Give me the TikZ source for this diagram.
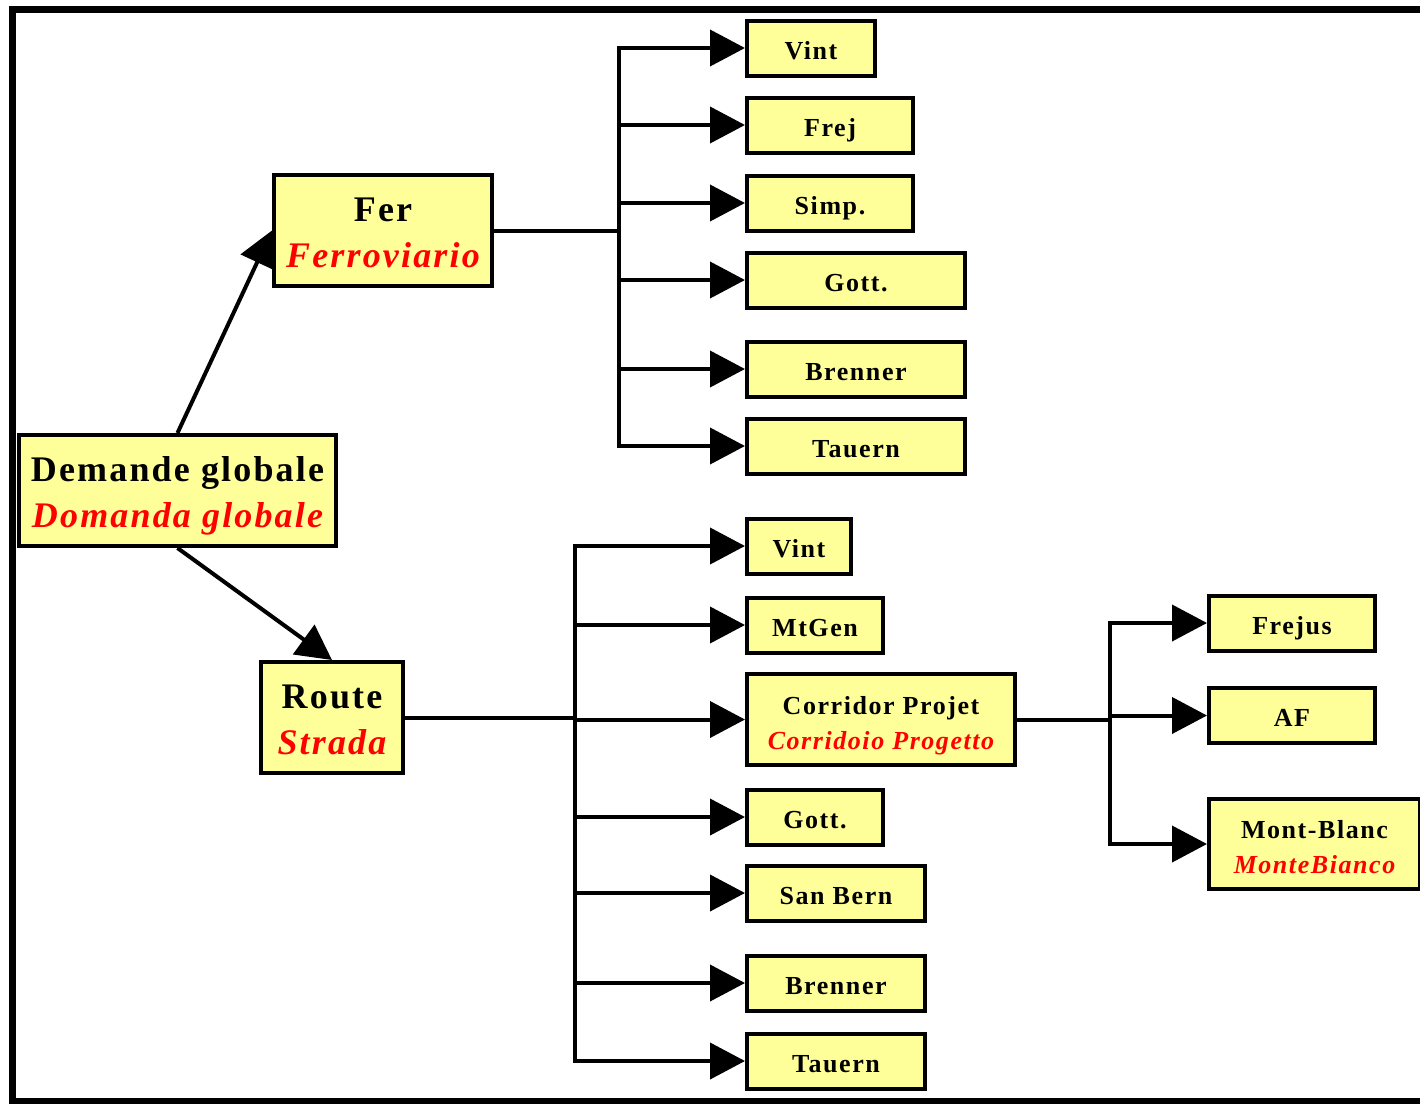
\documentclass[tikz,border=0pt]{standalone}
\usepackage{fontspec}
\setmainfont[LetterSpace=6]{Liberation Serif}
\usepackage{tikz}
\usetikzlibrary{arrows.meta}

\definecolor{boxyellow}{RGB}{255,255,153}
\newcommand{\dual}[2]{#1\\\textcolor{red}{\itshape #2}}

\begin{document}
\begin{tikzpicture}[x=1pt, y=-1pt,
	box/.style={draw, line width=4pt, fill=boxyellow, align=center, inner sep=0pt, text depth=0pt},
	big/.style={box, text height=74pt, font=\fontsize{36}{46}\selectfont\bfseries},
	leaf/.style={box, anchor=west, minimum height=55pt, text height=22pt, font=\fontsize{26}{35}\selectfont\bfseries},
	twoleaf/.style={leaf, text height=59pt},
	arr/.style={line width=4pt, -{Triangle[length=35pt,width=36pt]}}]

	\useasboundingbox (0,0) rectangle (1420,1103);
	\draw[line width=7pt] (12,9) rectangle (1460,1101);

	\node[big, minimum width=317pt, minimum height=111pt] (demande) at (177.5,490.5) {\dual{Demande globale}{Domanda globale}};
	\node[big, minimum width=218pt, minimum height=111pt] (fer) at (383,230.5) {\dual{Fer}{Ferroviario}};
	\node[big, minimum width=142pt, minimum height=111pt] (route) at (332,717.5) {\dual{Route}{Strada}};

	\draw[arr] (demande.north) -- (fer.west);
	\draw[arr] (demande.south) -- (route.north);

	% rail
	\coordinate (railbus) at (619,230.5);
	\foreach \n/\t/\y/\w in {rv/Vint/48/128, rf/Frej/125/166, rs/Simp./203/166, rg/Gott./280/218, rb/Brenner/369/218, rt/Tauern/446/218}
		\node[leaf, minimum width=\w pt] (\n) at (745,\y) {\t};
	\draw[line width=4pt] (fer.east) -- (railbus);
	\foreach \n in {rv,rf,rs,rg,rb,rt}
		\draw[arr] (railbus) |- (\n.west);

	% road
	\coordinate (roadbus) at (575,717.5);
	\foreach \n/\t/\y/\w in {dv/Vint/546/104, dm/MtGen/625/136, dg/Gott./817/136, ds/San Bern/893/178, db/Brenner/983/178, dt/Tauern/1061/178}
		\node[leaf, minimum width=\w pt] (\n) at (745,\y) {\t};
	\node[twoleaf, minimum width=268pt, minimum height=91pt] (corridor) at (745,719.5) {\dual{Corridor Projet}{Corridoio Progetto}};
	\draw[line width=4pt] (route.east) -- (roadbus);
	\foreach \n in {dv,dm,corridor,dg,ds,db,dt}
		\draw[arr] (roadbus) |- (\n.west);

	% corridor
	\coordinate (subbus) at (1110,719.5);
	\node[leaf, minimum width=166pt] (frejus) at (1207,623) {Frejus};
	\node[leaf, minimum width=166pt] (af) at (1207,715.5) {AF};
	\node[twoleaf, minimum width=211pt, minimum height=90pt] (montblanc) at (1207,844) {\dual{Mont-Blanc}{MonteBianco}};
	\draw[line width=4pt] (corridor.east) -- (subbus);
	\foreach \n in {frejus,af,montblanc}
		\draw[arr] (subbus) |- (\n.west);

\end{tikzpicture}
\end{document}
